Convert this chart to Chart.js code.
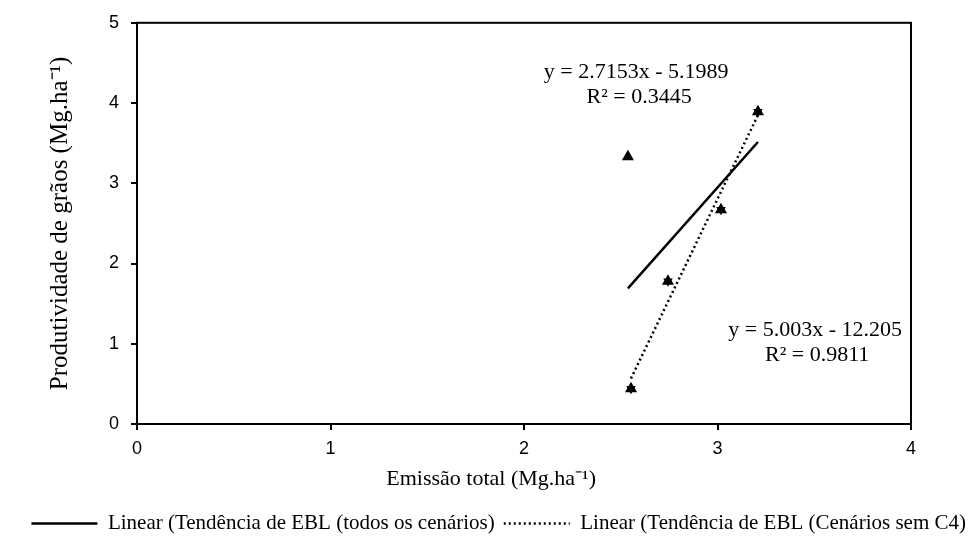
<!DOCTYPE html>
<html>
<head>
<meta charset="utf-8">
<script src="https://cdn.jsdelivr.net/npm/chart.js@4"></script>
<style>
  html, body { margin: 0; padding: 0; background: #fff; }
  #wrap { width: 975px; height: 549px; }
</style>
</head>
<body>
<div id="wrap"><canvas id="chart"></canvas></div>
<script>
// Emissão total (x) e produtividade (y) de cada cenário
const emissaoTodos = [2.537, 2.553, 2.744, 3.018, 3.209];
const produtTodos = [3.33, 0.44, 1.78, 2.67, 3.89];
// cenários sem C4 (sem o ponto isolado)
const emissaoSemC4 = [2.553, 2.744, 3.018, 3.209];
const produtSemC4 = [0.44, 1.78, 2.67, 3.89];

// coeficientes das linhas de tendência (como impressos no gráfico)
const trendTodos = { slope: 2.7153, intercept: -5.1989, r2: 0.3445 };
const trendSemC4 = { slope: 5.003, intercept: -12.205, r2: 0.9811 };

const xTicks = [0, 1, 2, 3, 4];
const yTicks = [0, 1, 2, 3, 4, 5];
const xTitle = "Emissão total (Mg.ha⁻¹)";
const yTitle = "Produtividade de grãos (Mg.ha⁻¹)";

const serif = "'Liberation Serif', 'Times New Roman', serif";
const sans = "'Liberation Sans', Arial, sans-serif";

const toPoints = (xs, ys) => xs.map((x, i) => ({ x: x, y: ys[i] }));

// trend line only spans the data range, like Excel does
function trendLine(xs, t) {
  const lo = Math.min(...xs), hi = Math.max(...xs);
  return [lo, hi].map(x => ({ x: x, y: t.slope * x + t.intercept }));
}

const boxAndNotes = {
  id: "boxAndNotes",
  afterDatasetsDraw(chart) {
    const { ctx, chartArea: a, scales } = chart;
    ctx.save();
    ctx.strokeStyle = "#000";
    ctx.lineWidth = 2;
    ctx.strokeRect(a.left, a.top, a.right - a.left, a.bottom - a.top);

    ctx.fillStyle = "#000";
    ctx.textAlign = "center";
    ctx.textBaseline = "middle";

    // x title sits a bit left of the plot centre in the original
    ctx.font = "22px " + serif;
    ctx.fillText(xTitle, scales.x.getPixelForValue(1.83), a.bottom + 55);

    const notes = [
      { x: 2.58, y: 4.39, text: "y = 2.7153x - 5.1989" },
      { x: 2.595, y: 4.07, text: "R² = " + trendTodos.r2.toFixed(4) },
      { x: 3.505, y: 1.17, text: "y = 5.003x - 12.205" },
      { x: 3.515, y: 0.86, text: "R² = " + trendSemC4.r2.toFixed(4) }
    ];
    notes.forEach(n => {
      ctx.fillText(n.text, scales.x.getPixelForValue(n.x), scales.y.getPixelForValue(n.y));
    });
    ctx.restore();
  }
};

new Chart(document.getElementById("chart"), {
  type: "scatter",
  data: {
    datasets: [
      {
        label: "Todos os cenários",
        data: toPoints(emissaoTodos, produtTodos),
        pointStyle: "triangle",
        pointRadius: 7,
        backgroundColor: "#000",
        borderColor: "#000",
        borderWidth: 0
      },
      {
        label: "Cenários sem C4",
        data: toPoints(emissaoSemC4, produtSemC4),
        pointStyle: "triangle",
        pointRotation: 180,
        pointRadius: 5.5,
        backgroundColor: "#000",
        borderColor: "#000",
        borderWidth: 0
      },
      {
        label: "Linear (Tendência de EBL (todos os cenários)",
        data: trendLine(emissaoTodos, trendTodos),
        showLine: true,
        borderColor: "#000",
        backgroundColor: "#000",
        borderWidth: 2.5,
        pointRadius: 0
      },
      {
        label: "Linear (Tendência de EBL (Cenários sem C4)",
        data: trendLine(emissaoSemC4, trendSemC4),
        showLine: true,
        borderColor: "#000",
        backgroundColor: "#000",
        borderWidth: 2.5,
        borderDash: [2, 3],
        pointRadius: 0
      }
    ]
  },
  options: {
    responsive: true,
    maintainAspectRatio: false,
    animation: false,
    layout: { padding: { left: 0, right: 0, top: 20, bottom: 5 } },
    scales: {
      x: {
        type: "linear",
        min: 0,
        max: 4,
        afterBuildTicks: s => { s.ticks = xTicks.map(v => ({ value: v })); },
        afterFit: s => { s.height = 80; },
        border: { display: false },
        grid: { drawOnChartArea: false, drawTicks: true, tickLength: 6, color: "#000", lineWidth: 2 },
        ticks: { color: "#000", font: { size: 18, family: sans }, padding: 8 },
        title: { display: false, text: xTitle }
      },
      y: {
        type: "linear",
        min: 0,
        max: 5,
        afterBuildTicks: s => { s.ticks = yTicks.map(v => ({ value: v })); },
        afterFit: s => { s.width = 137; },
        border: { display: false },
        grid: { drawOnChartArea: false, drawTicks: true, tickLength: 6, color: "#000", lineWidth: 2 },
        ticks: { color: "#000", font: { size: 18, family: sans }, padding: 12 },
        title: {
          display: true,
          text: yTitle,
          color: "#000",
          font: { size: 25, family: serif },
          padding: { top: 45, bottom: 0 }
        }
      },
      // empty right-side spacer so the legend spans the full page
      spacer: {
        type: "linear",
        position: "right",
        display: true,
        afterFit: s => { s.width = 64; },
        border: { display: false },
        grid: { display: false },
        ticks: { display: false }
      }
    },
    plugins: {
      legend: {
        position: "bottom",
        align: "end",
        labels: {
          color: "#000",
          font: { size: 21, family: serif },
          usePointStyle: true,
          pointStyle: "line",
          pointStyleWidth: 66,
          padding: 9,
          generateLabels: chart => {
            const items = Chart.defaults.plugins.legend.labels.generateLabels(chart);
            return items.map(item => {
              const ds = chart.data.datasets[item.datasetIndex];
              item.lineDash = ds.borderDash || [];
              item.lineWidth = ds.borderWidth;
              item.strokeStyle = "#000";
              item.fillStyle = "#000";
              return item;
            });
          },
          filter: item => item.datasetIndex >= 2
        }
      },
      tooltip: { enabled: false }
    }
  },
  plugins: [boxAndNotes]
});
</script>
</body>
</html>
